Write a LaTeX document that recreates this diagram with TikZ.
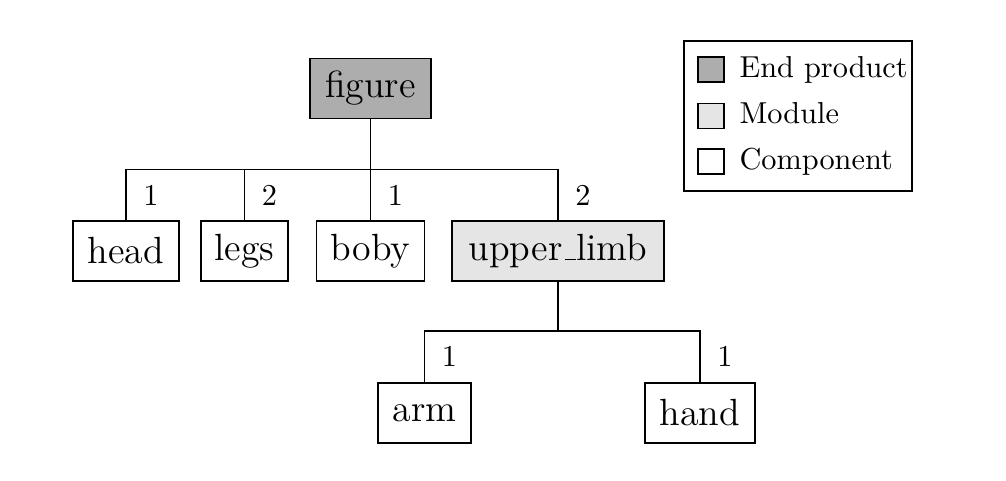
\documentclass[tikz,border=0pt]{standalone}
\newcommand{\lowbar}{\leavevmode\kern.06em\vbox{\hrule width.3em height 0.4pt}}
\begin{document}
\begin{tikzpicture}[x=0.33pt,y=-0.33pt,
  box/.style={draw, line width=0.4pt, inner sep=0pt, font=\fontsize{12.5}{15}\selectfont, minimum height=19.8pt},
  endp/.style={box, fill=black!32},
  modul/.style={box, fill=black!10},
  comp/.style={box, fill=white},
  qty/.style={font=\normalsize, inner sep=0pt, anchor=west, xshift=5.5pt},
  swatch/.style={draw, line width=0.4pt, minimum width=8.6pt, minimum height=8.3pt, inner sep=0pt},
  legtext/.style={anchor=west, inner sep=0pt, text height=7pt, text depth=2pt, font=\normalsize},
  conn/.style={line width=0.4pt}
]
\useasboundingbox (0,0) rectangle (1006,480);
% nodes
\node[endp, minimum width=39.9pt] (figure) at (370.5,88.5) {figure};
\node[comp, minimum width=35pt] (head) at (126,251) {head};
\node[comp, minimum width=28.7pt] (legs) at (244.5,251) {legs};
\node[comp, minimum width=35.6pt] (boby) at (370.5,251) {boby};
\node[modul, minimum width=70pt] (upper) at (558,251) {upper\lowbar limb};
\node[comp, minimum width=30.7pt] (arm) at (424.5,413) {arm};
\node[comp, minimum width=36.3pt] (hand) at (700,413) {hand};
% junctions
\coordinate (j1) at (370.5,169.5);
\coordinate (j2) at (558,331);
% connectors
\draw[conn] (figure.south) -- (j1);
\draw[conn] (j1) -| (head.north) node[qty, pos=0.75] {1};
\draw[conn] (j1) -| (legs.north) node[qty, pos=0.75] {2};
\draw[conn] (j1) -- (boby.north) node[qty, pos=0.5] {1};
\draw[conn] (j1) -| (upper.north) node[qty, pos=0.75] {2};
\draw[conn] (upper.south) -- (j2);
\draw[conn] (j2) -| (arm.north) node[qty, pos=0.75] {1};
\draw[conn] (j2) -| (hand.north) node[qty, pos=0.75] {1};
% legend
\node[draw, line width=0.4pt, minimum width=75.2pt, minimum height=49.5pt, inner sep=0pt] (legend) at (798,116) {};
\node[swatch, fill=black!32] (s1) at (711,69.5) {};
\node[swatch, fill=black!10] (s2) at (711,116) {};
\node[swatch, fill=white] (s3) at (711,161.5) {};
\node[legtext] (t1) at (739,69.5) {End product};
\node[legtext] (t2) at (739,116) {Module};
\node[legtext] (t3) at (739,161.5) {Component};
\end{tikzpicture}
\end{document}
